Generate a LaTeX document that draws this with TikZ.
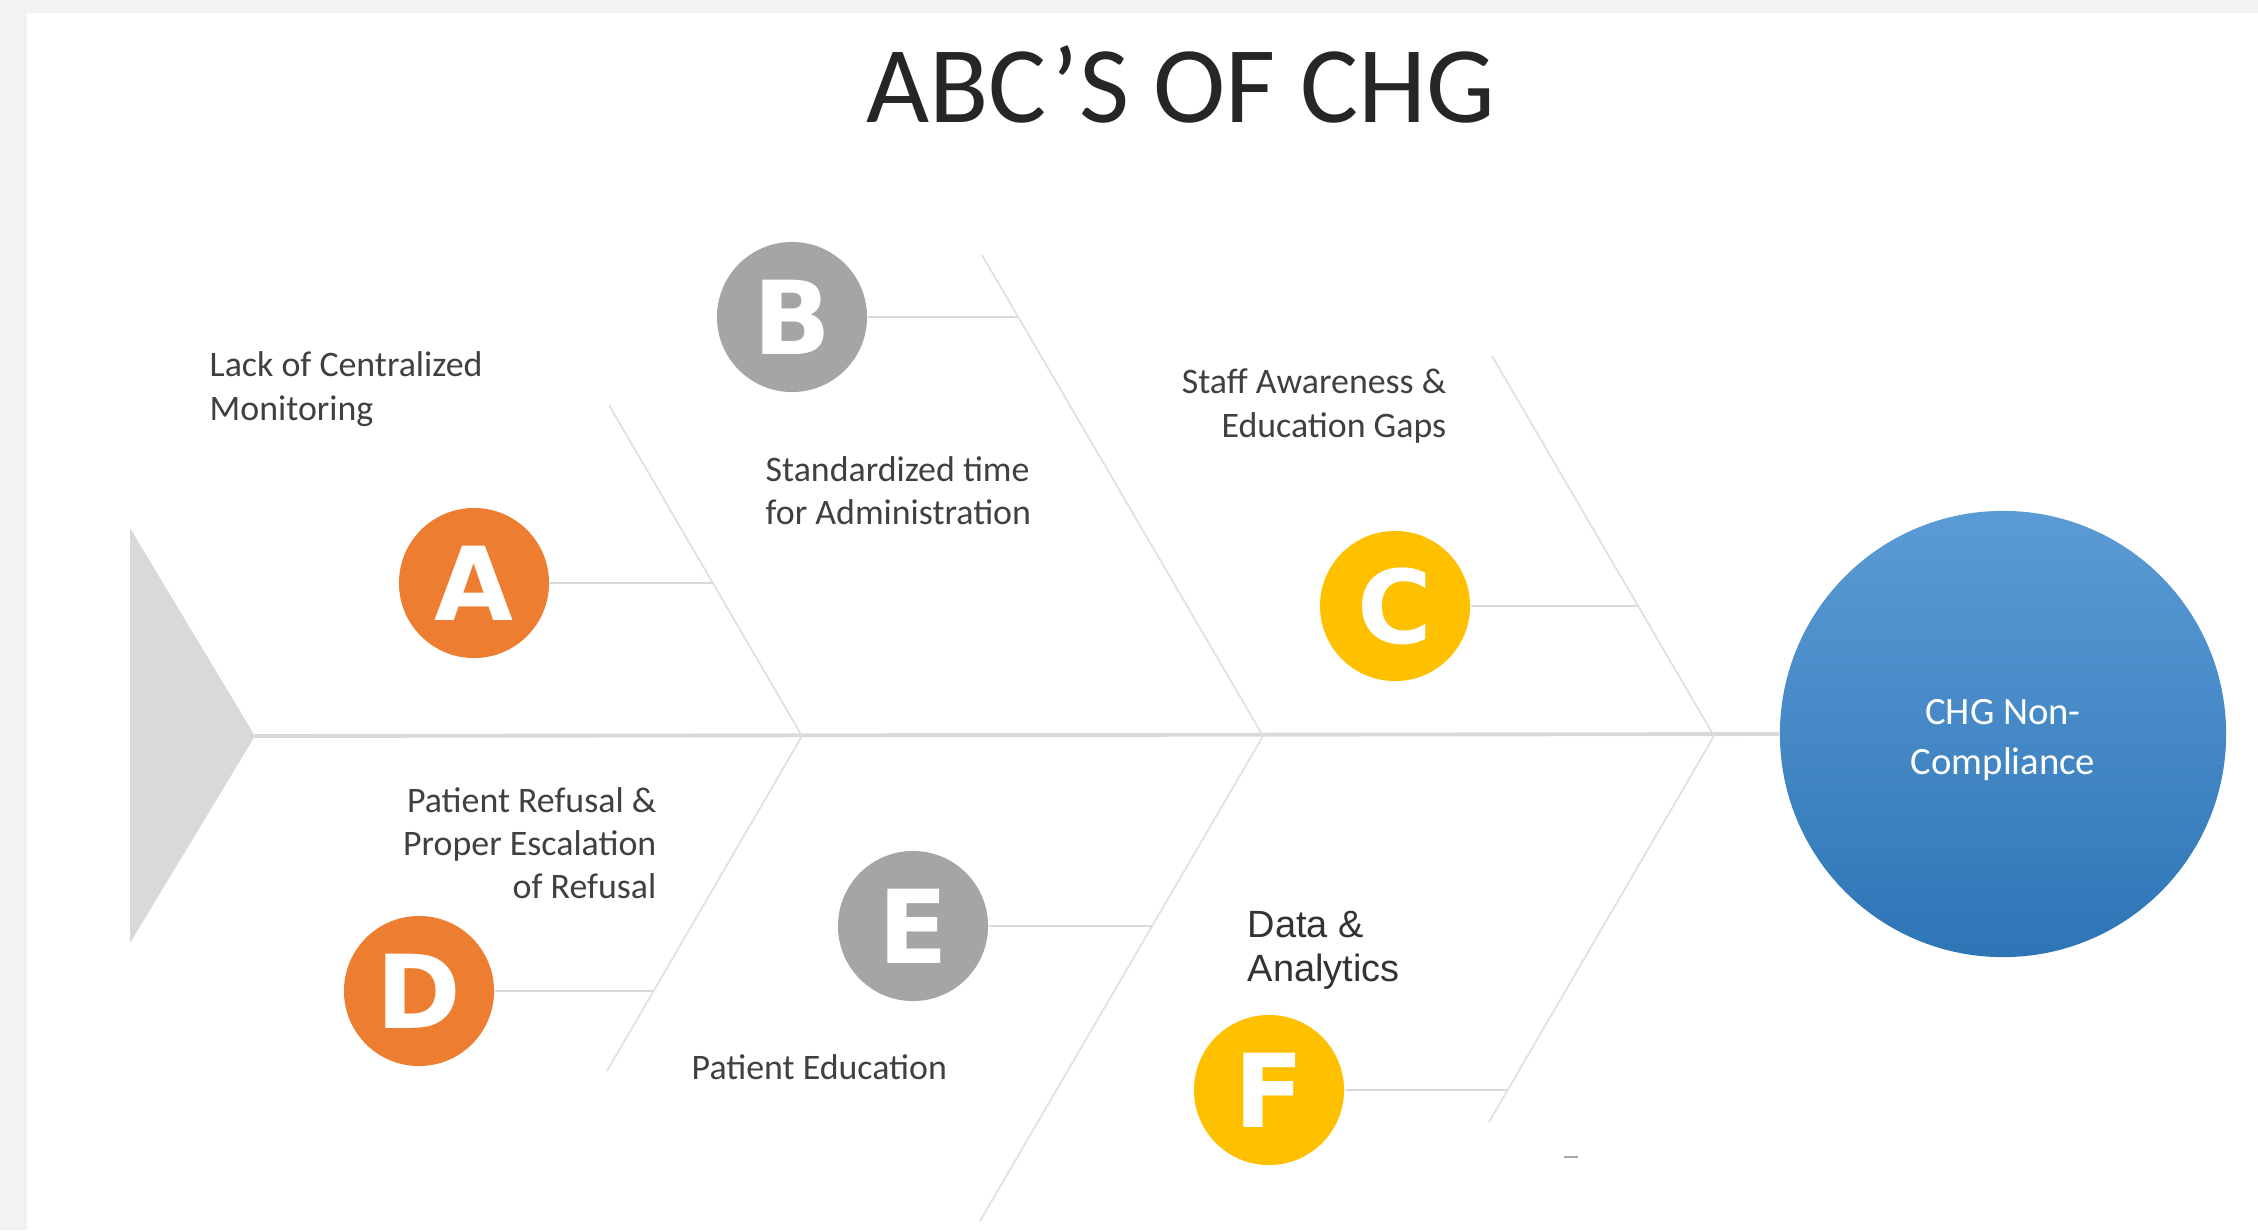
\documentclass[tikz,border=0pt]{standalone}
\usepackage{fontspec}
\setmainfont{Carlito}
\newfontfamily\arialfont{Liberation Sans}
\newfontfamily\letterfont{DejaVu Sans}
\usetikzlibrary{positioning}

\definecolor{pagegray}{HTML}{F2F2F2}
\definecolor{bonegray}{HTML}{D9D9D9}
\definecolor{txtgray}{HTML}{404040}
\definecolor{catorange}{HTML}{ED7D31}
\definecolor{catgray}{HTML}{A5A5A5}
\definecolor{catyellow}{HTML}{FFC000}
\definecolor{bluetop}{HTML}{5B9BD5}
\definecolor{bluebot}{HTML}{2E75B6}

\tikzset{
  spine/.style={bonegray, line width=1.1pt},
  bone/.style={bonegray!80, line width=0.5pt},
  twig/.style={bonegray, line width=0.6pt},
  letter/.style={circle, minimum size=1.5cm, inner sep=0pt, text=white,
    font=\letterfont\bfseries\fontsize{29}{29}\selectfont},
  label/.style={inner sep=0pt, text=txtgray, font=\fontsize{10.2}{12.3}\selectfont},
}

\begin{document}
\begin{tikzpicture}[x=0.01cm, y=-0.01cm]
\useasboundingbox (0,0) rectangle (2258,1230);
\fill[pagegray] (0,0) rectangle (2258,1230);
\fill[white] (27,13) rectangle (2258,1230);

\node[anchor=base, text=black!85, font=\fontsize{31}{31}\selectfont] (title) at (1181,122) {ABC’S OF CHG};

% tail
\coordinate (T0) at (130, 528);
\coordinate (T1) at (255, 736);
\coordinate (T2) at (130, 943);
\fill[bonegray] (T0) -- (T1) -- (T2) -- cycle;

% head
\node[circle, minimum size=4.46cm, inner sep=0pt, top color=bluetop, bottom color=bluebot,
  text=white, align=center, font=\fontsize{11}{14}\selectfont] (goal) at (2003,734) {};
\node[text=white, align=center, font=\fontsize{11}{14}\selectfont] (goaltext) at ([yshift=-0.06cm]goal.center) {CHG Non-\\Compliance};

% spine and bones
\coordinate (s1) at (802, 736);
\coordinate (s2) at (1263, 736);
\coordinate (s3) at (1714, 736);
\coordinate (u1) at (609, 405);
\coordinate (u2) at (982, 255);
\coordinate (u3) at (1492, 356);
\coordinate (l1) at (607, 1071);
\coordinate (l2) at (980, 1221);
\coordinate (l3) at (1489, 1122);

\draw[spine] (T1) -- (goal.west);
\draw[bone] (s1) -- (u1);
\draw[bone] (s2) -- (u2);
\draw[bone] (s3) -- (u3);
\draw[bone] (s1) -- (l1);
\draw[bone] (s2) -- (l2);
\draw[bone] (s3) -- (l3);

% causes
\node[letter, fill=catorange] (A) at (474, 583) {A};
\node[letter, fill=catgray] (B) at (792, 317) {B};
\node[letter, fill=catyellow] (C) at (1395, 606) {C};
\node[letter, fill=catorange] (D) at (419, 991) {D};
\node[letter, fill=catgray] (E) at (913, 926) {E};
\node[letter, fill=catyellow] (F) at (1269, 1090) {F};

\coordinate (a) at (713, 583);
\coordinate (b) at (1018, 317);
\coordinate (c) at (1638, 606);
\coordinate (d) at (653, 991);
\coordinate (e) at (1152, 926);
\coordinate (f) at (1507, 1090);

\draw[twig] (A) -- (a);
\draw[twig] (B) -- (b);
\draw[twig] (C) -- (c);
\draw[twig] (D) -- (d);
\draw[twig] (E) -- (e);
\draw[twig] (F) -- (f);

\node[label, anchor=west, align=left] (labA) at (209, 389) {Lack of Centralized\\Monitoring};
\node[label, anchor=west, align=left] (labB) at (765, 491) {Standardized time\\for Administration};
\node[label, anchor=east, align=right] (labC) at (1447, 406) {Staff Awareness \&\\Education Gaps};
\node[label, anchor=east, align=right] (labD) at (657, 843) {Patient Refusal \&\\Proper Escalation\\of Refusal};
\node[label, anchor=west] (labE) at (691, 1067) {Patient Education};
\node[label, anchor=west, align=left, text=black!80, font=\arialfont\fontsize{10.8}{12.5}\selectfont] (labF) at (1247, 950) {Data \&\\Analytics};

\draw[catgray, line width=0.6pt] (1564, 1157) -- (1578, 1157);
\end{tikzpicture}
\end{document}
